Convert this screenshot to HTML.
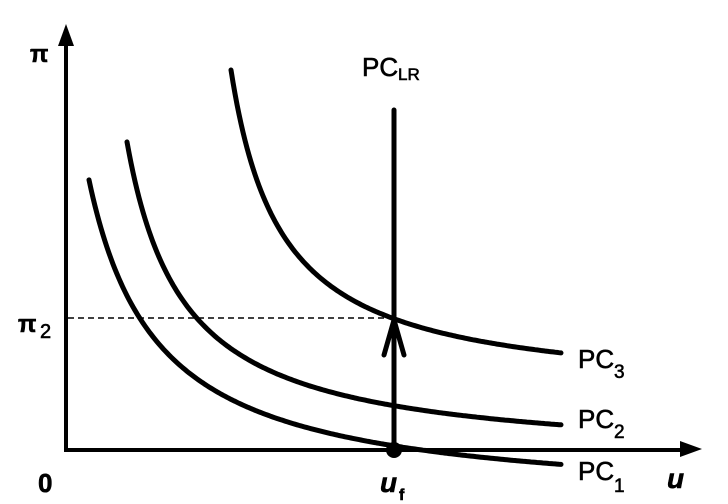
<!DOCTYPE html>
<html><head><meta charset="utf-8"><style>
html,body{margin:0;padding:0;background:#fff;}
svg{display:block;}
text{font-family:"Liberation Sans",Arial,sans-serif;fill:#000;stroke:#000;stroke-width:0.6;}
</style></head><body>
<svg id="s" width="728" height="504" viewBox="0 0 728 504" xmlns="http://www.w3.org/2000/svg">
<rect width="728" height="504" fill="#fff"/>
<line x1="66" y1="40" x2="66" y2="451" stroke="#000" stroke-width="4"/>
<polygon points="66,24 58,46 74,46" fill="#000"/>
<line x1="64" y1="450" x2="684" y2="450" stroke="#000" stroke-width="4"/>
<polygon points="702,449 680,441 680,457" fill="#000"/>
<line x1="68" y1="318" x2="394" y2="318" stroke="#000" stroke-width="1.5" stroke-dasharray="6,4"/>
<path id="pc1" fill="none" stroke="#000" stroke-width="5" stroke-linecap="round"/>
<path id="pc2" fill="none" stroke="#000" stroke-width="5" stroke-linecap="round"/>
<path id="pc3" fill="none" stroke="#000" stroke-width="5" stroke-linecap="round"/>
<line x1="394" y1="110" x2="394" y2="450" stroke="#000" stroke-width="5" stroke-linecap="round"/>
<polyline points="384,355 394,320 404,355" fill="none" stroke="#000" stroke-width="5" stroke-linecap="round" stroke-linejoin="round"/>
<circle cx="394" cy="450" r="8" fill="#000"/>
<text x="30" y="62" font-size="24" font-weight="bold">π</text>
<text x="18" y="332" font-size="24" font-weight="bold">π</text>
<text x="40" y="338" font-size="20">2</text>
<text x="38" y="492" font-size="26" font-weight="bold">0</text>
<text x="362" y="76" font-size="26">PC</text>
<text x="398" y="80" font-size="17">LR</text>
<text x="380" y="492" font-size="28" font-style="italic" font-weight="bold">u</text>
<text x="399" y="500" font-size="16" font-weight="bold">f</text>
<text x="667" y="488" font-size="28" font-style="italic" font-weight="bold">u</text>
<text x="578" y="368" font-size="26">PC</text><text x="614" y="378" font-size="19">3</text>
<text x="578" y="428" font-size="26">PC</text><text x="614" y="438" font-size="19">2</text>
<text x="578" y="480" font-size="26">PC</text><text x="614" y="492" font-size="19">1</text>
</svg>
<script>
function hyp(id,c,B,A,x0,x1){var d="";for(var x=x0;x<=x1;x+=2){var y=A-B/(x-c);d+=(d?"L":"M")+x+","+y.toFixed(1);}document.getElementById(id).setAttribute("d",d);}
hyp("pc1",20,22500,506,89,562);
hyp("pc2",70,18246,462,127,562);
hyp("pc3",180,16657,396.6,231,562);
</script>
</body></html>
